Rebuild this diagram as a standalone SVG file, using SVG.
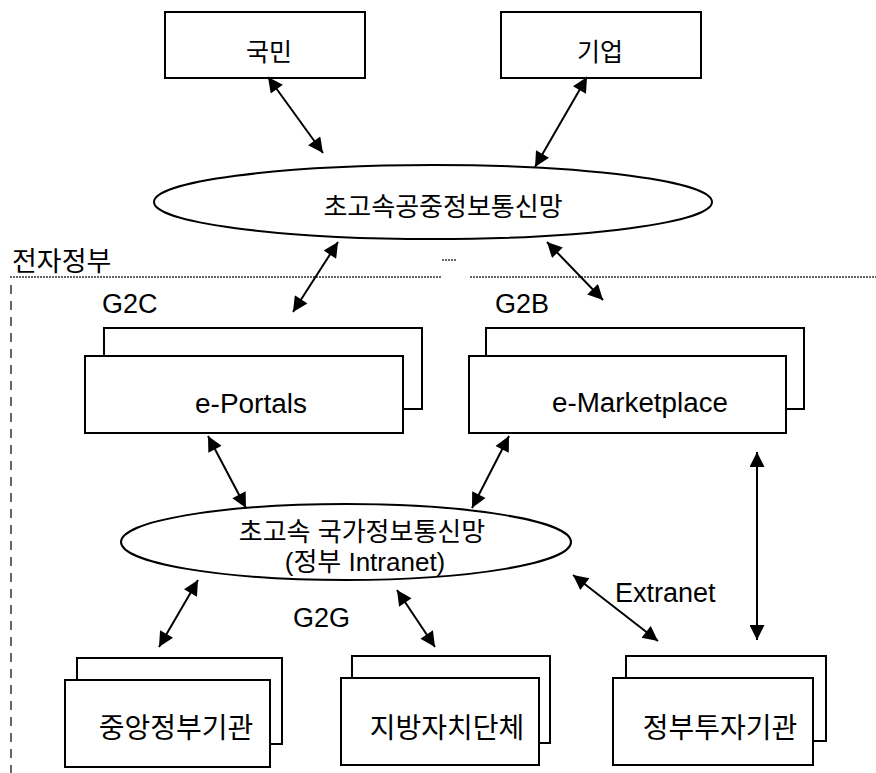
<svg xmlns="http://www.w3.org/2000/svg" width="876" height="773" viewBox="0 0 876 773">
<style>
  .box { fill: #fff; stroke: #000; stroke-width: 2; }
  .ell { fill: #fff; stroke: #000; stroke-width: 2; }
  .t { font-family: "Liberation Sans", "Noto Sans CJK KR", sans-serif; fill: #000; text-anchor: middle; }
  .tl { font-family: "Liberation Sans", "Noto Sans CJK KR", sans-serif; fill: #000; }
  .conn line { stroke: #000; stroke-width: 2; marker-start: url(#ah); marker-end: url(#ah); }
  .dot { stroke: #333; stroke-width: 1.5; fill: none; }
</style>
<defs>
  <marker id="ah" viewBox="0 0 10 10" refX="10" refY="5" markerWidth="22" markerHeight="15" markerUnits="userSpaceOnUse" orient="auto-start-reverse">
    <path d="M0,0 L10,5 L0,10 z" fill="#000"/>
  </marker>
</defs>
<rect width="876" height="773" fill="#fff"/>

<g id="boundary">
  <line class="dot" x1="10" y1="277" x2="441" y2="277" stroke-dasharray="2 1"/>
  <line class="dot" x1="470" y1="277" x2="876" y2="277" stroke-dasharray="2 1"/>
  <line class="dot" x1="442" y1="260" x2="457" y2="260" stroke-width="1" stroke-dasharray="2 1"/>
  <line class="dot" x1="11" y1="285" x2="11" y2="773" stroke-width="1" stroke-dasharray="9 7"/>
  <text class="tl" x="12" y="271" font-size="27">전자정부</text>
</g>

<g id="citizen">
  <rect class="box" x="165" y="12" width="200" height="66"/>
  <text class="t" x="269" y="61" font-size="25">국민</text>
</g>
<g id="business">
  <rect class="box" x="501" y="12" width="200" height="66"/>
  <text class="t" x="600" y="61" font-size="25">기업</text>
</g>

<g id="public-net">
  <ellipse class="ell" cx="433" cy="202" rx="279" ry="37"/>
  <text class="t" x="443" y="216" font-size="26">초고속공중정보통신망</text>
</g>

<g id="eportals">
  <text class="tl" x="102" y="313" font-size="27">G2C</text>
  <rect class="box" x="104" y="328" width="318" height="81"/>
  <rect class="box" x="85" y="356" width="318" height="77"/>
  <text class="t" x="251" y="413" font-size="27" textLength="112" lengthAdjust="spacingAndGlyphs">e-Portals</text>
</g>
<g id="emarketplace">
  <text class="tl" x="495" y="313" font-size="27">G2B</text>
  <rect class="box" x="486" y="328" width="318" height="81"/>
  <rect class="box" x="469" y="356" width="317" height="77"/>
  <text class="t" x="640" y="412" font-size="27" textLength="176" lengthAdjust="spacingAndGlyphs">e-Marketplace</text>
</g>

<g id="gov-intranet">
  <ellipse class="ell" cx="346" cy="542" rx="225" ry="38"/>
  <text class="t" x="362" y="541" font-size="26">초고속 국가정보통신망</text>
  <text class="t" x="365" y="571" font-size="26">(정부 Intranet)</text>
</g>

<g id="labels">
  <text class="tl" x="615" y="602" font-size="27">Extranet</text>
  <text class="tl" x="293" y="627" font-size="27">G2G</text>
</g>

<g id="central">
  <rect class="box" x="77" y="658" width="205" height="86"/>
  <rect class="box" x="65" y="680" width="205" height="87"/>
  <text class="t" x="176" y="738" font-size="28">중앙정부기관</text>
</g>
<g id="local">
  <rect class="box" x="352" y="656" width="198" height="87"/>
  <rect class="box" x="341" y="678" width="198" height="87"/>
  <text class="t" x="447" y="738" font-size="28">지방자치단체</text>
</g>
<g id="invest">
  <rect class="box" x="626" y="656" width="200" height="85"/>
  <rect class="box" x="613" y="678" width="200" height="87"/>
  <text class="t" x="720" y="738" font-size="28">정부투자기관</text>
</g>

<g id="connectors" class="conn">
  <line x1="268" y1="77" x2="323" y2="153"/>
  <line x1="587" y1="77" x2="535" y2="167"/>
  <line x1="338" y1="242" x2="293" y2="312"/>
  <line x1="547" y1="242" x2="603" y2="300"/>
  <line x1="208" y1="436" x2="246" y2="508"/>
  <line x1="509" y1="436" x2="472" y2="508"/>
  <line x1="757" y1="452" x2="757" y2="640"/>
  <line x1="198" y1="580" x2="159" y2="647"/>
  <line x1="397" y1="590" x2="435" y2="647"/>
  <line x1="573" y1="575" x2="658" y2="641"/>
</g>
</svg>
